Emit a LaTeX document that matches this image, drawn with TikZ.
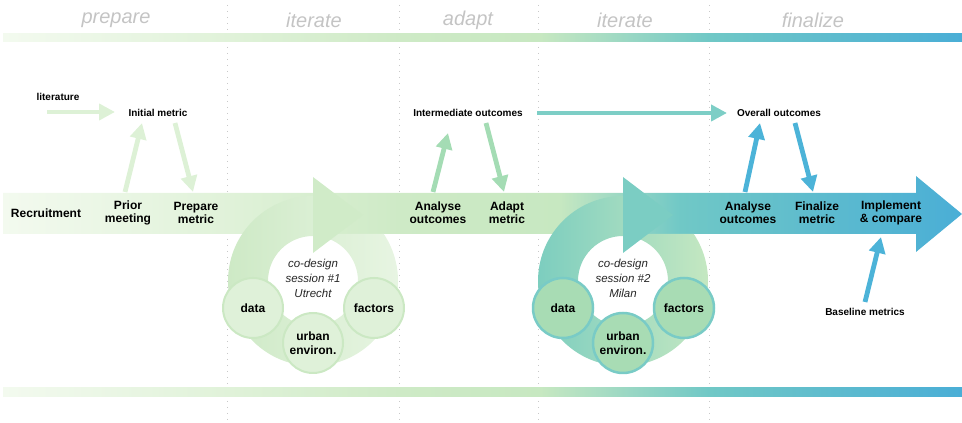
\documentclass[tikz,border=0pt]{standalone}
\usepackage{fontspec}
\setmainfont{Liberation Sans}
\usepackage{tikz}
\usetikzlibrary{calc, positioning}
\usetikzlibrary{arrows.meta}
\definecolor{phasegray}{HTML}{C4C4C4}
\definecolor{dotgray}{HTML}{C9C9C9}
\definecolor{flowA}{HTML}{F3FAEF}
\definecolor{flowB}{HTML}{E0F2D9}
\definecolor{flowC}{HTML}{CEEAC6}
\definecolor{flowD}{HTML}{C7E8C1}
\definecolor{flowE}{HTML}{70C8C6}
\definecolor{flowF}{HTML}{4AAED6}
\definecolor{arrowpale}{HTML}{DDF1D6}
\definecolor{arrowmint}{HTML}{A4DCB4}
\definecolor{arrowteal}{HTML}{7DCEC6}
\definecolor{arrowblue}{HTML}{4CB3D8}
\definecolor{ringAL}{HTML}{CDE9C5}
\definecolor{ringAR}{HTML}{E8F5E3}
\definecolor{headA}{HTML}{D0EBC8}
\definecolor{topicA}{HTML}{DFF1D9}
\definecolor{topicAline}{HTML}{CBE8C3}
\definecolor{ringBL}{HTML}{7BCDBF}
\definecolor{ringBR}{HTML}{C6E8C1}
\definecolor{headB}{HTML}{7BCDC3}
\definecolor{topicB}{HTML}{A8DCB4}
\definecolor{topicBline}{HTML}{79CBC6}
\pgfdeclarehorizontalshading{barshade}{100bp}{color(0bp)=(flowA); color(25bp)=(flowA); color(36.8bp)=(flowB); color(45.7bp)=(flowC); color(53bp)=(flowD); color(61.8bp)=(flowE); color(75bp)=(flowF); color(100bp)=(flowF)}
\pgfdeclarehorizontalshading{bandshade}{100bp}{color(0bp)=(flowA); color(25bp)=(flowA); color(36.8bp)=(flowB); color(45.7bp)=(flowC); color(54bp)=(flowD); color(60.3bp)=(flowE); color(75bp)=(flowF); color(100bp)=(flowF)}
\tikzset{>=stealth}
\tikzset{
	phase/.style={font=\fontsize{20}{24}\selectfont\itshape, text=phasegray, inner sep=0pt},
	steplabel/.style={font=\fontsize{12}{13}\selectfont\bfseries, align=center, inner sep=0pt},
	note/.style={font=\fontsize{10}{12}\selectfont\bfseries, inner sep=0pt},
	session/.style={font=\fontsize{11.5}{15}\selectfont\itshape, align=center, inner sep=0pt, text=black!85},
	topic/.style={circle, minimum size=60pt, inner sep=0pt, line width=2pt, font=\fontsize{12}{14}\selectfont\bfseries, align=center},
	fat/.style={line width=4.8pt, -{Triangle[width=16pt,length=16pt]}},
	divider/.style={draw=dotgray, line width=1pt, dash pattern=on 1pt off 5pt},
}

\begin{document}
\begin{tikzpicture}[x=1pt,y=1pt]
	\useasboundingbox (0,0) rectangle (962,423);
	\foreach \xd in {227,399,538,709}
		\draw[divider] (\xd,418) -- (\xd,0);
	\node[phase] (prepare) at (116,403) {prepare};
	\node[phase] (iterA) at (314,403) {iterate};
	\node[phase] (adapt) at (468,403) {adapt};
	\node[phase] (iterB) at (625,403) {iterate};
	\node[phase] (finalize) at (813,403) {finalize};
	\shade[shading=barshade] (3,381) rectangle (962,389);
	\shade[shading=barshade] (3,26) rectangle (962,35);
	\shade[shading=bandshade] (3,189) -- (916,189) -- (916,171) -- (962,209) -- (916,247) -- (916,230) -- (3,230) -- cycle;
	\coordinate (cA) at (313,142);
	\coordinate (cB) at (623,142);
	\begin{scope}
		\clip (0,0) -- (962,0) -- (962,189) -- (313,189) -- (313,423) -- (0,423) -- cycle;
		\shade[left color=ringAL, right color=ringAR] ($(cA)+(85:85)$) arc[start angle=85, end angle=-270, radius=85] -- ($(cA)+(90:45)$) arc[start angle=-270, end angle=85, radius=45] -- cycle;
	\end{scope}
	\fill[headA] (313,246) -- (363,208) -- (313,170) -- cycle;
	\begin{scope}
		\clip (0,0) -- (962,0) -- (962,189) -- (623,189) -- (623,423) -- (0,423) -- cycle;
		\shade[left color=ringBL, right color=ringBR] ($(cB)+(85:85)$) arc[start angle=85, end angle=-270, radius=85] -- ($(cB)+(90:45)$) arc[start angle=-270, end angle=85, radius=45] -- cycle;
	\end{scope}
	\fill[headB] (623,246) -- (673,208) -- (623,170) -- cycle;
	\node[session] (sessA) at (313,145) {co-design\\session \#1\\Utrecht};
	\node[topic, fill=topicA, draw=topicAline] (dataA) at (253,115) {data};
	\node[topic, fill=topicA, draw=topicAline] (factorsA) at (374,115) {factors};
	\node[topic, fill=topicA, draw=topicAline] (urbanA) at (313,80) {urban\\environ.};
	\node[session] (sessB) at (623,145) {co-design\\session \#2\\Milan};
	\node[topic, fill=topicB, draw=topicBline, line width=2.5pt] (dataB) at (563,115) {data};
	\node[topic, fill=topicB, draw=topicBline, line width=2.5pt] (factorsB) at (684,115) {factors};
	\node[topic, fill=topicB, draw=topicBline, line width=2.5pt] (urbanB) at (623,80) {urban\\environ.};
	\node[steplabel] (recruit) at (46,210) {Recruitment};
	\node[steplabel] (prior) at (128,210) {Prior\\meeting};
	\node[steplabel] (prepmetric) at (196,210) {Prepare\\metric};
	\node[steplabel] (analyseA) at (438,210) {Analyse\\outcomes};
	\node[steplabel] (adaptmetric) at (507,210) {Adapt\\metric};
	\node[steplabel] (analyseB) at (748,210) {Analyse\\outcomes};
	\node[steplabel] (finalmetric) at (817,210) {Finalize\\metric};
	\node[steplabel] (implement) at (891,210) {Implement\\\& compare};
	\node[note] (lit) at (58,326) {literature};
	\node[note] (initial) at (158,310) {Initial metric};
	\node[note] (intermediate) at (468,310) {Intermediate outcomes};
	\node[note] (overall) at (779,310) {Overall outcomes};
	\node[note] (baseline) at (865,111) {Baseline metrics};
	\draw[fat, arrowpale] ($(lit)+(-11,-15)$) -- ($(initial)+(-43,1)$);
	\draw[fat, arrowpale] ($(prior)+(-3,21)$) -- ($(initial)+(-16,-10)$);
	\draw[fat, arrowpale] ($(initial)+(17,-10)$) -- ($(prepmetric)+(-3,21)$);
	\draw[fat, arrowmint] ($(analyseA)+(-5,21)$) -- ($(intermediate)+(-20,-20)$);
	\draw[fat, arrowmint] ($(intermediate)+(18,-10)$) -- ($(adaptmetric)+(-3,21)$);
	\draw[fat, arrowteal] ($(intermediate)+(69,0)$) -- ($(overall)+(-52,0)$);
	\draw[fat, arrowblue] ($(analyseB)+(-3,21)$) -- ($(overall)+(-19,-10)$);
	\draw[fat, arrowblue] ($(overall)+(16,-10)$) -- ($(finalmetric)+(-4,21)$);
	\draw[fat, arrowblue] ($(baseline)+(0,10)$) -- ($(implement)+(-10,-24)$);
\end{tikzpicture}
\end{document}
